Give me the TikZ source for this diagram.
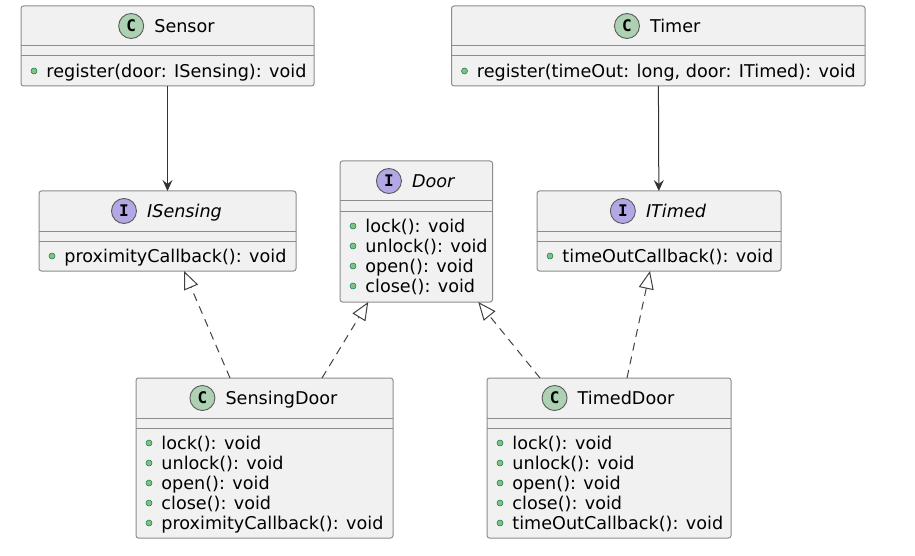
\documentclass[tikz,border=0pt]{standalone}
\usepackage{fontspec}
\setmainfont{DejaVu Sans}
\setmonofont{DejaVu Sans Mono}
\usetikzlibrary{arrows.meta,positioning}
\definecolor{boxfill}{HTML}{F1F1F1}
\definecolor{cgreen}{HTML}{ADD1B2}
\definecolor{ipurple}{HTML}{B4A7E5}
\definecolor{mgreen}{HTML}{84BE84}
\definecolor{mborder}{HTML}{038048}

\begin{document}
\begin{tikzpicture}[x=1pt, y=-1pt, font=\fontsize{17.6}{20}\selectfont,
classbox/.style={draw=black!45, fill=boxfill, rounded corners=2.5pt, line width=1pt, anchor=north west, inner sep=0pt, outer sep=0pt},
divider/.style={draw=black!45, line width=1pt},
cname/.style={inner sep=0pt, text height=13pt, text depth=0pt},
icon/.style={circle, draw=black!65, line width=0.9pt, minimum size=25pt, inner sep=0pt, font=\ttfamily\bfseries\fontsize{16}{16}\selectfont},
cicon/.style={icon, fill=cgreen},
iicon/.style={icon, fill=ipurple},
mdot/.style={circle, draw=mborder, fill=mgreen, minimum size=6pt, inner sep=0pt, line width=0.5pt},
member/.style={inner sep=0pt, text height=13pt, text depth=0pt},
assoc/.style={draw=black!80, line width=1pt, -{Stealth[length=11pt, width=10pt, inset=4pt]}},
realize/.style={draw=black!75, line width=1pt, dash pattern=on 8pt off 6pt, -{Triangle[open, length=18pt, width=15pt, fill=white]}}]

\useasboundingbox (0,0) rectangle (915,556);

% boxes with their two dividers
\foreach \nm/\px/\py/\w/\h in {sensor/21/6/293/80, timer/451.5/6/413.5/80, isensing/39/191/257/80, door/340/161/152.5/141, itimed/537/191/244/80, sdoor/136/378/257/160, tdoor/487/378/244/160} {
  \node[classbox, minimum width=\w pt, minimum height=\h pt] (\nm) at (\px,\py) {};
  \draw[divider] ([yshift=-40pt]\nm.north west) -- ([yshift=-40pt]\nm.north east);
  \draw[divider] ([yshift=-50pt]\nm.north west) -- ([yshift=-50pt]\nm.north east);
}

% titles
\node[cname] (sensor-name) at ([xshift=17pt, yshift=-20pt]sensor.north) {Sensor};
\node[cicon, left=10pt of sensor-name] (sensor-icon) {C};
\node[cname] (timer-name) at ([xshift=17pt, yshift=-20pt]timer.north) {Timer};
\node[cicon, left=10pt of timer-name] (timer-icon) {C};
\node[cname] (isensing-name) at ([xshift=17pt, yshift=-20pt]isensing.north) {\itshape ISensing};
\node[iicon, left=10pt of isensing-name] (isensing-icon) {I};
\node[cname] (door-name) at ([xshift=17pt, yshift=-20pt]door.north) {\itshape Door};
\node[iicon, left=10pt of door-name] (door-icon) {I};
\node[cname] (itimed-name) at ([xshift=17pt, yshift=-20pt]itimed.north) {\itshape ITimed};
\node[iicon, left=10pt of itimed-name] (itimed-icon) {I};
\node[cname] (sdoor-name) at ([xshift=17pt, yshift=-20pt]sdoor.north) {SensingDoor};
\node[cicon, left=10pt of sdoor-name] (sdoor-icon) {C};
\node[cname] (tdoor-name) at ([xshift=17pt, yshift=-20pt]tdoor.north) {TimedDoor};
\node[cicon, left=10pt of tdoor-name] (tdoor-icon) {C};

% members
\foreach \m [count=\i] in {register(door: ISensing): void} {
  \node[mdot] (sensor-dot\i) at ([xshift=13pt, yshift={-45pt-20pt*\i}]sensor.north west) {};
  \node[member, right=9pt of sensor-dot\i] (sensor-m\i) {\m};
}
\foreach \m [count=\i] in {{register(timeOut: long, door: ITimed): void}} {
  \node[mdot] (timer-dot\i) at ([xshift=13pt, yshift={-45pt-20pt*\i}]timer.north west) {};
  \node[member, right=9pt of timer-dot\i] (timer-m\i) {\m};
}
\foreach \m [count=\i] in {proximityCallback(): void} {
  \node[mdot] (isensing-dot\i) at ([xshift=13pt, yshift={-45pt-20pt*\i}]isensing.north west) {};
  \node[member, right=9pt of isensing-dot\i] (isensing-m\i) {\m};
}
\foreach \m [count=\i] in {lock(): void, unlock(): void, open(): void, close(): void} {
  \node[mdot] (door-dot\i) at ([xshift=13pt, yshift={-45pt-20pt*\i}]door.north west) {};
  \node[member, right=9pt of door-dot\i] (door-m\i) {\m};
}
\foreach \m [count=\i] in {timeOutCallback(): void} {
  \node[mdot] (itimed-dot\i) at ([xshift=13pt, yshift={-45pt-20pt*\i}]itimed.north west) {};
  \node[member, right=9pt of itimed-dot\i] (itimed-m\i) {\m};
}
\foreach \m [count=\i] in {lock(): void, unlock(): void, open(): void, close(): void, proximityCallback(): void} {
  \node[mdot] (sdoor-dot\i) at ([xshift=13pt, yshift={-45pt-20pt*\i}]sdoor.north west) {};
  \node[member, right=9pt of sdoor-dot\i] (sdoor-m\i) {\m};
}
\foreach \m [count=\i] in {lock(): void, unlock(): void, open(): void, close(): void, timeOutCallback(): void} {
  \node[mdot] (tdoor-dot\i) at ([xshift=13pt, yshift={-45pt-20pt*\i}]tdoor.north west) {};
  \node[member, right=9pt of tdoor-dot\i] (tdoor-m\i) {\m};
}

% connectors
\draw[assoc] (sensor) -- (isensing);
\draw[assoc] (timer) -- (itimed);
\draw[realize] ([xshift=-34.5pt]sdoor.north) -- ([xshift=16.5pt]isensing.south);
\draw[realize] ([xshift=57.5pt]sdoor.north) -- ([xshift=-48pt]door.south);
\draw[realize] ([xshift=-69pt]tdoor.north) -- ([xshift=62pt]door.south);
\draw[realize] ([xshift=18pt]tdoor.north) -- ([xshift=-9pt]itimed.south);
\end{tikzpicture}
\end{document}
